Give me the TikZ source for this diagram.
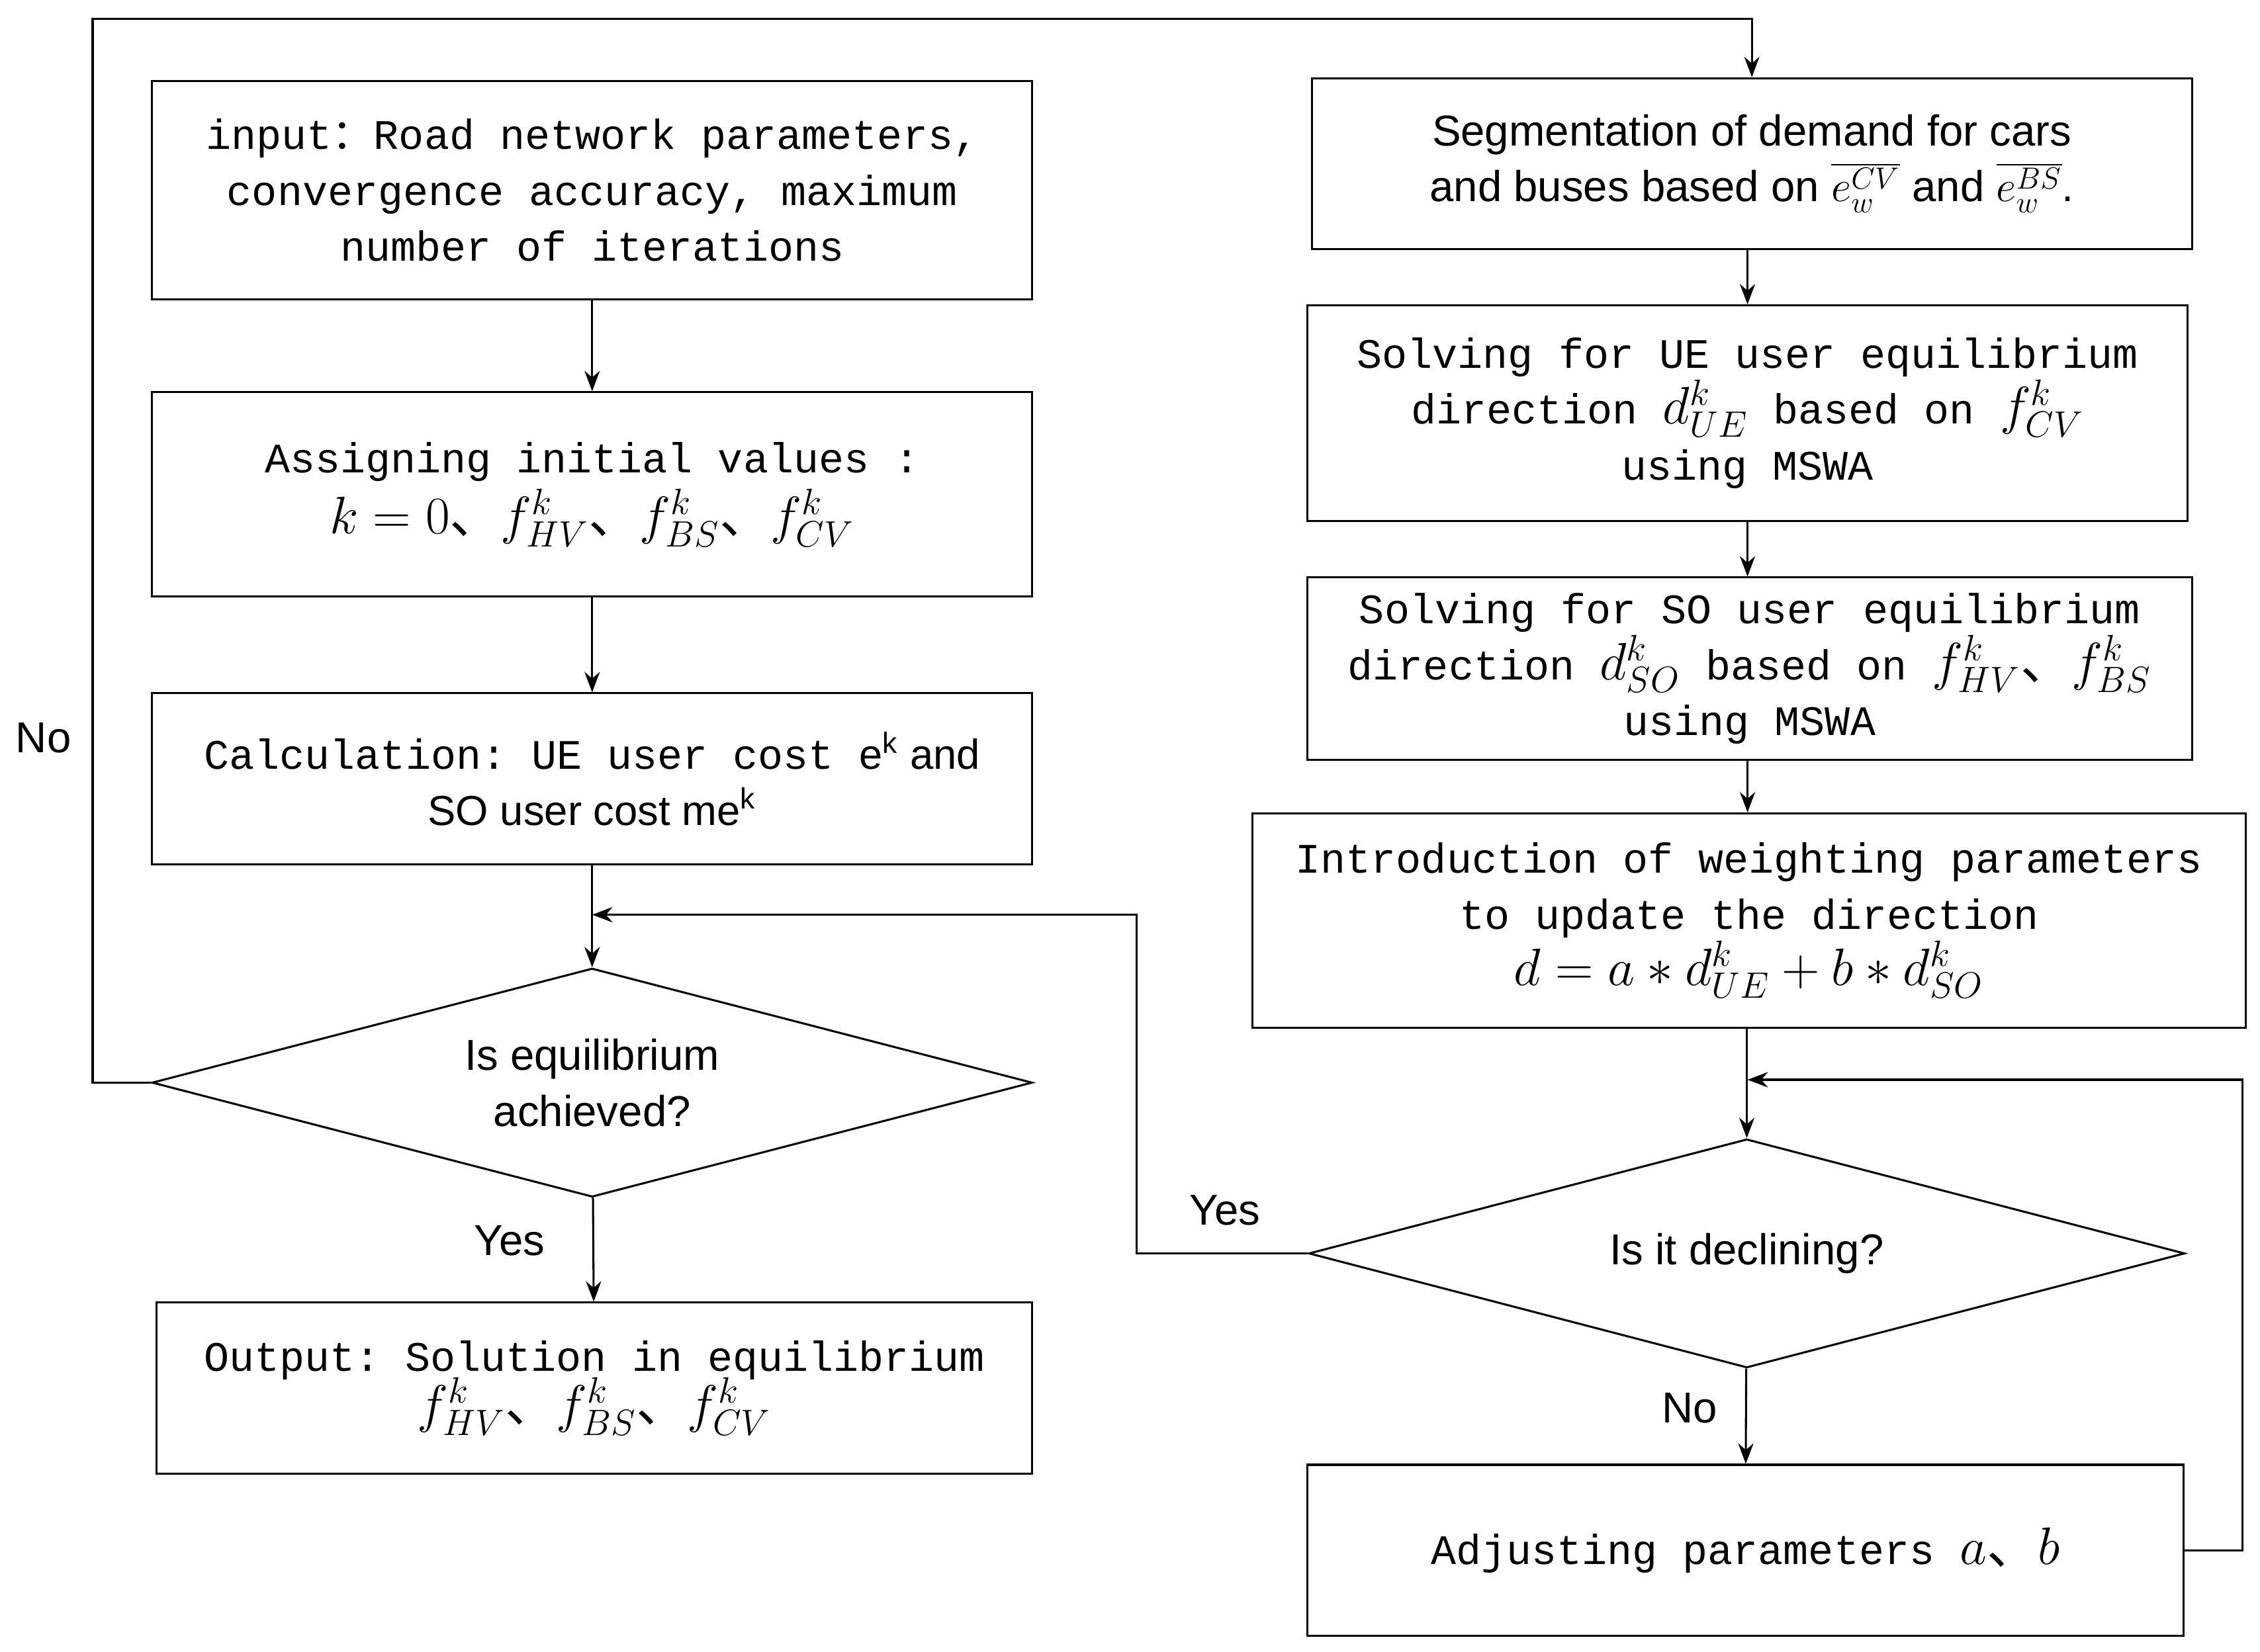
\documentclass[tikz,border=0pt]{standalone}
\usepackage{fontspec}
\setmainfont{Liberation Serif}
\setsansfont{Liberation Sans}
\setmonofont{Liberation Mono}
\newfontfamily\cjk{Noto Sans CJK SC}
\usetikzlibrary{shapes.geometric,arrows.meta}
\newcommand{\dn}{{\cjk 、}}
\newcommand{\mf}{\rmfamily\fontsize{20}{24}\selectfont}
\begin{document}
\begin{tikzpicture}[x=0.02cm,y=-0.02cm,
  box/.style={draw,thick,rectangle,inner sep=0pt,align=center,font=\ttfamily\fontsize{16.5}{22}\selectfont},
  dia/.style={draw,thick,diamond,aspect=3.8,inner sep=0pt,align=center,font=\sffamily\fontsize{17}{22}\selectfont},
  lab/.style={font=\sffamily\fontsize{17}{22}\selectfont},
  arr/.style={thick,-{Stealth[length=8pt,width=6pt]}},
  ln/.style={thick}]
\useasboundingbox (0,0) rectangle (1561,1141);
\node[box,minimum width=608*0.02cm,minimum height=151*0.02cm] (b1) at (409,131.5) {input{\cjk ：}Road network parameters,\\convergence accuracy, maximum\\number of iterations};
\node[box,minimum width=608*0.02cm,minimum height=141*0.02cm] (b2) at (409,341.5) {Assigning initial values :\\[2pt] \mf $k=0$\dn $f^k_{HV}$\dn $f^k_{BS}$\dn $f^k_{CV}$};
\node[box,minimum width=608*0.02cm,minimum height=118*0.02cm] (b3) at (409,538) {Calculation: UE user cost {\sffamily e$^{\mathsf k}$ and}\\{\sffamily SO user cost me$^{\mathsf k}$}};
\node[dia,minimum width=608*0.02cm,minimum height=158*0.02cm] (d1) at (409,748) {Is equilibrium\\achieved?};
\node[box,minimum width=605*0.02cm,minimum height=118*0.02cm] (b4) at (410.5,959) {Output: Solution in equilibrium\\[-2pt] \mf $f^k_{HV}$\dn $f^k_{BS}$\dn $f^k_{CV}$};
\node[box,minimum width=608*0.02cm,minimum height=118*0.02cm,font=\sffamily\fontsize{17}{22}\selectfont] (r1) at (1210,113) {Segmentation of demand for cars\\and buses based on $\overline{e_w^{CV}}$ and $\overline{e_w^{BS}}$.};
\node[box,minimum width=608*0.02cm,minimum height=149*0.02cm] (r2) at (1207,285.5) {Solving for UE user equilibrium\\direction {\mf $d^k_{UE}$} based on {\mf $f^k_{CV}$}\\using MSWA};
\node[box,minimum width=611*0.02cm,minimum height=126*0.02cm] (r3) at (1208.5,462) {Solving for SO user equilibrium\\direction {\mf $d^k_{SO}$} based on {\mf $f^k_{HV}$\dn $f^k_{BS}$}\\using MSWA};
\node[box,minimum width=686*0.02cm,minimum height=148*0.02cm] (r4) at (1208,636) {Introduction of weighting parameters\\to update the direction\\{\mf $d=a*d^k_{UE}+b*d^k_{SO}$}};
\node[dia,minimum width=605*0.02cm,minimum height=158*0.02cm] (d2) at (1206.5,866) {Is it declining?};
\node[box,minimum width=605*0.02cm,minimum height=118*0.02cm] (r5) at (1205.5,1071) {Adjusting parameters {\mf $a$\dn $b$}};
\coordinate (c1) at (64,748); \coordinate (c2) at (64,13); \coordinate (c3) at (1210,13);
\coordinate (j1) at (409,632); \coordinate (c4) at (785,866); \coordinate (c5) at (785,632);
\coordinate (j2) at (1207,746); \coordinate (c6) at (1549,1071); \coordinate (c7) at (1549,746);
\draw[arr] (b1) -- (b2);
\draw[arr] (b2) -- (b3);
\draw[arr] (b3) -- (d1);
\draw[arr] (d1) -- (b4);
\draw[arr] (d1.west) -- (c1) -- (c2) -- (c3) -- (r1.north -| c3);
\draw[arr] (r1.south -| r2) -- (r2);
\draw[arr] (r2) -- (r3.north -| r2);
\draw[arr] (r3.south -| r2) -- (r4.north -| r2);
\draw[arr] (r4.south -| d2) -- (d2);
\draw[arr] (d2) -- (r5);
\draw[arr] (d2.west) -- (c4) -- (c5) -- (j1);
\draw[arr] (r5.east) -- (c6) -- (c7) -- (j2);
\node[lab] at (30,510) {No};
\node[lab] at (352,857) {Yes};
\node[lab] at (846,836) {Yes};
\node[lab] at (1167,973) {No};
\end{tikzpicture}
\end{document}
